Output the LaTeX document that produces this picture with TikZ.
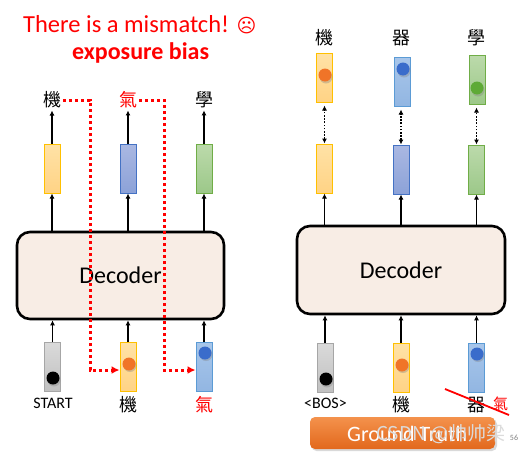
\documentclass[tikz,border=0pt]{standalone}
\usepackage{fontspec}
\setmainfont{Carlito}
\newfontfamily\cjk{Noto Sans CJK TC}
\newfontfamily\cjksc{Noto Sans CJK SC}
\newfontfamily\symfont{DejaVu Sans}
\usetikzlibrary{arrows.meta}
\definecolor{decfill}{HTML}{F8EDE5}
\definecolor{yelT}{HTML}{FFE2A6}\definecolor{yelB}{HTML}{FFD385}\definecolor{yelD}{HTML}{FFC000}
\definecolor{bluT}{HTML}{AAB8E2}\definecolor{bluB}{HTML}{8CA2D8}\definecolor{bluD}{HTML}{4472C4}
\definecolor{grnT}{HTML}{BCDAAB}\definecolor{grnB}{HTML}{9CC889}\definecolor{grnD}{HTML}{70AD47}
\definecolor{lbT}{HTML}{A8C6EA}\definecolor{lbB}{HTML}{92B6E2}\definecolor{lbD}{HTML}{5B9BD5}
\definecolor{gryT}{HTML}{DADADA}\definecolor{gryB}{HTML}{C0C0C0}\definecolor{gryD}{HTML}{A6A6A6}
\definecolor{dotO}{HTML}{F07428}\definecolor{dotB}{HTML}{3A6CCB}\definecolor{dotG}{HTML}{5EAA36}
\definecolor{btnT}{HTML}{F4924C}\definecolor{btnB}{HTML}{E2681C}
\begin{document}
\begin{tikzpicture}[x=1pt,y=-1pt,
  dec/.style={draw=black,line width=2.6pt,fill=decfill,rounded corners=13pt,
    minimum width=207pt,minimum height=87pt,inner sep=0pt,font=\fontsize{24}{24}\selectfont},
  vec/.style={draw,line width=1pt,minimum width=16pt,minimum height=49pt,inner sep=0pt},
  yel/.style={vec,draw=yelD,top color=yelT,bottom color=yelB},
  blu/.style={vec,draw=bluD,top color=bluT,bottom color=bluB},
  grn/.style={vec,draw=grnD,top color=grnT,bottom color=grnB},
  lbl/.style={vec,draw=lbD,top color=lbT,bottom color=lbB},
  gry/.style={vec,draw=gryD,top color=gryT,bottom color=gryB},
  word/.style={inner sep=0pt,font=\cjk\fontsize{18}{18}\selectfont},
  lab/.style={inner sep=0pt,font=\fontsize{16}{16}\selectfont},
  arr/.style={-{Latex[length=5pt,width=5pt]},line width=1.6pt},
  darr/.style={{Latex[length=5pt,width=5pt]}-{Latex[length=5pt,width=5pt]},line width=1.6pt,dash pattern=on 1.6pt off 1.6pt},
  reddot/.style={red,line width=3pt,dash pattern=on 3pt off 3pt,-{Latex[length=8pt,width=8pt]}},
  ball/.style={circle,inner sep=0pt,minimum size=13pt},
]
\useasboundingbox (0,0) rectangle (521,453);

% titles
\node[anchor=base west,inner sep=0pt,red,font=\fontsize{24.5}{24}\selectfont] (title) at (23,32)
  {There is a mismatch! {\symfont\fontsize{19}{19}\selectfont ☹}};
\node[anchor=base west,inner sep=0pt,red,font=\bfseries\fontsize{24}{24}\selectfont] (sub) at (72,59) {exposure bias};

% ---------- left ----------
\node[dec] (decL) at (120.5,275.5) {Decoder};
\node[yel] (tL1) at (52,168.5) {};
\node[blu] (tL2) at (128,168.5) {};
\node[grn] (tL3) at (204,168.5) {};
\node[word] (wL1) at (52,100) {機};
\node[word,red] (wL2) at (128,100) {氣};
\node[word] (wL3) at (204,100) {學};
\node[gry] (bL1) at (52.5,367) {};
\node[yel] (bL2) at (128,367) {};
\node[lbl] (bL3) at (204,367) {};
\node[lab] (lL1) at (53,403) {START};
\node[word] (lL2) at (128.5,404.5) {機};
\node[word,red] (lL3) at (204,404.5) {氣};

\foreach \i in {1,2,3}{
  \draw[arr,shorten >=2pt] (tL\i.north) -- (wL\i.south);
  \draw[arr] (decL.north -| tL\i) -- (tL\i.south);
  \draw[arr] (bL\i.north) -- (bL\i.north |- decL.south);
}
\fill[gray,opacity=0.35] (54,380) circle (6.5pt);
\node[ball,fill=black] (dL1) at (53,378) {};
\fill[gray,opacity=0.35] (130,365.5) circle (6.5pt);
\node[ball,fill=dotO] (dL2) at (129,364) {};
\fill[gray,opacity=0.35] (206,354.5) circle (6.5pt);
\node[ball,fill=dotB] (dL3) at (205,353) {};

\coordinate (cL1) at (90,100);
\coordinate (cL2) at (164,100);
\draw[reddot,shorten <=2pt] (wL1.east) -- (cL1) |- ([yshift=-3pt]bL2.west);
\draw[reddot,shorten <=2pt] (wL2.east) -- (cL2) |- ([yshift=-3pt]bL3.west);

% ---------- right ----------
\node[dec] (decR) at (401,270) [minimum width=208pt,minimum height=88pt] {Decoder};
\node[yel] (uR1) at (324.5,77.5) {};
\node[lbl] (uR2) at (402,81.5) {};
\node[grn] (uR3) at (477,79.5) {};
\node[word] (wR1) at (324.5,38) {機};
\node[word] (wR2) at (401.5,38) {器};
\node[word] (wR3) at (476.5,38) {學};
\node[yel] (tR1) at (324.5,168.5) {};
\node[blu] (tR2) at (401,169.5) {};
\node[grn] (tR3) at (476.5,169.5) {};
\node[gry] (bR1) at (325,367.5) {};
\node[yel] (bR2) at (401,367.5) {};
\node[lbl] (bR3) at (476.5,367.5) {};
\node[lab] (lR1) at (325.5,403) {<BOS>};
\node[word] (lR2) at (401.5,405) {機};
\node[word] (lR3) at (476,405) {器};
\node[word,red,font=\cjk\fontsize{15}{15}\selectfont] (lR4) at (500.5,404) {氣};

\fill[gray,opacity=0.35] (326,77) circle (6.5pt);
\node[ball,fill=dotO] (dR1) at (325,75) {};
\fill[gray,opacity=0.35] (404,71) circle (6.5pt);
\node[ball,fill=dotB] (dR2) at (403,69) {};
\fill[gray,opacity=0.35] (478,90) circle (6.5pt);
\node[ball,fill=dotG] (dR3) at (477,88) {};
\fill[gray,opacity=0.35] (327,381) circle (6.5pt);
\node[ball,fill=black] (dR4) at (326,379) {};
\fill[gray,opacity=0.35] (403,366.5) circle (6.5pt);
\node[ball,fill=dotO] (dR5) at (402,365) {};
\fill[gray,opacity=0.35] (478,355.5) circle (6.5pt);
\node[ball,fill=dotB] (dR6) at (477,354) {};

\foreach \i in {1,2,3}{
  \draw[darr,shorten >=3pt] (tR\i.north) -- (tR\i.north |- uR\i.south);
  \draw[arr] (decR.north -| tR\i) -- (tR\i.south);
  \draw[arr] (bR\i.north) -- (bR\i.north |- decR.south);
}

\coordinate (s1) at (445,389);
\coordinate (s2) at (509,415);
\draw[red,line width=1.8pt] (s1) -- (s2);

% button
\fill[black,opacity=0.15,rounded corners=5pt] (311.5,419) rectangle (497,451);
\node[rounded corners=5pt,top color=btnT,bottom color=btnB,minimum width=185pt,minimum height=32pt,inner sep=0pt] (gt) at (402.5,433) {};
\node[anchor=base west,inner sep=0pt,white,font=\fontsize{22}{22}\selectfont] (gtt) at (347,441) {Ground Truth};
\node[anchor=base west,inner sep=0pt,white!72!gray,font=\cjksc\fontsize{19}{19}\selectfont] (wm) at (376,440) {CSDN @帅帅梁};
\node[inner sep=0pt,gray,font=\fontsize{8}{8}\selectfont] (pg) at (514,438) {56};
\end{tikzpicture}
\end{document}
